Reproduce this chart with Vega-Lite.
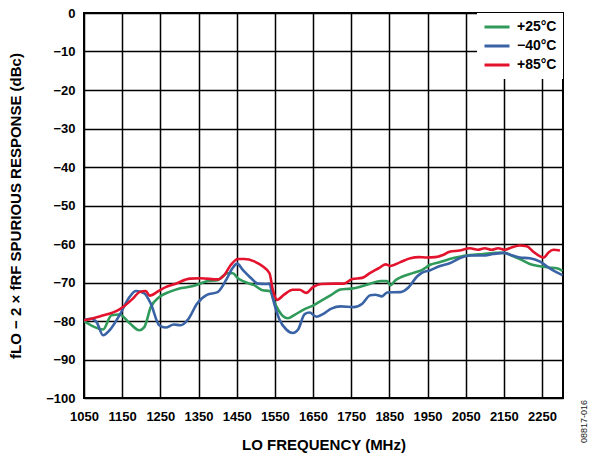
{
  "$schema": "https://vega.github.io/schema/vega-lite/v6.json",
  "width": 479,
  "height": 385,
  "autosize": {"type": "none"},
  "padding": {"left": 84, "top": 13, "right": 32, "bottom": 58},
  "background": "white",
  "title": {"text": "08817-016", "orient": "right", "anchor": "end", "angle": 270, "align": "left", "baseline": "middle", "fontSize": 9, "fontWeight": "normal", "font": "Liberation Sans", "color": "#222", "offset": 12, "dx": 9},
  "config": {
    "view": {"stroke": "black", "strokeWidth": 2},
    "axis": {
      "labelFont": "Liberation Sans", "labelFontWeight": "bold", "labelFontSize": 13, "labelColor": "black",
      "titleFont": "Liberation Sans", "titleFontWeight": "bold", "titleFontSize": 15, "titleColor": "black",
      "grid": true, "gridColor": "black", "gridWidth": 1.5, "gridOpacity": 1,
      "ticks": false, "domain": false, "labelOverlap": false, "labelBound": false, "labelFlush": false
    },
    "legend": {
      "labelFont": "Liberation Sans", "labelFontWeight": "bold", "labelFontSize": 14, "labelColor": "black"
    }
  },
  "data": {"values": [
    {"f":1050,"v":-80,"t":"+25°C"},{"f":1074,"v":-81.4,"t":"+25°C"},{"f":1100,"v":-82.2,"t":"+25°C"},{"f":1122,"v":-78.5,"t":"+25°C"},{"f":1143,"v":-78.3,"t":"+25°C"},{"f":1169,"v":-80.5,"t":"+25°C"},{"f":1195,"v":-82.4,"t":"+25°C"},{"f":1208,"v":-81.6,"t":"+25°C"},{"f":1225,"v":-76.4,"t":"+25°C"},{"f":1247,"v":-73.8,"t":"+25°C"},{"f":1272,"v":-72.5,"t":"+25°C"},{"f":1298,"v":-71.6,"t":"+25°C"},{"f":1333,"v":-71,"t":"+25°C"},{"f":1372,"v":-69.7,"t":"+25°C"},{"f":1400,"v":-69.4,"t":"+25°C"},{"f":1426,"v":-67.6,"t":"+25°C"},{"f":1440,"v":-67.6,"t":"+25°C"},{"f":1453,"v":-68.9,"t":"+25°C"},{"f":1470,"v":-69.8,"t":"+25°C"},{"f":1496,"v":-70.7,"t":"+25°C"},{"f":1518,"v":-72,"t":"+25°C"},{"f":1536,"v":-72.2,"t":"+25°C"},{"f":1553,"v":-76,"t":"+25°C"},{"f":1571,"v":-78.7,"t":"+25°C"},{"f":1584,"v":-79.3,"t":"+25°C"},{"f":1602,"v":-78.4,"t":"+25°C"},{"f":1628,"v":-76.9,"t":"+25°C"},{"f":1650,"v":-76,"t":"+25°C"},{"f":1672,"v":-74.7,"t":"+25°C"},{"f":1698,"v":-73.2,"t":"+25°C"},{"f":1722,"v":-71.8,"t":"+25°C"},{"f":1750,"v":-71.6,"t":"+25°C"},{"f":1774,"v":-71.1,"t":"+25°C"},{"f":1800,"v":-70.3,"t":"+25°C"},{"f":1827,"v":-69.6,"t":"+25°C"},{"f":1844,"v":-69.6,"t":"+25°C"},{"f":1853,"v":-70.7,"t":"+25°C"},{"f":1866,"v":-69.4,"t":"+25°C"},{"f":1883,"v":-68.5,"t":"+25°C"},{"f":1913,"v":-67.5,"t":"+25°C"},{"f":1935,"v":-66.8,"t":"+25°C"},{"f":1957,"v":-65.4,"t":"+25°C"},{"f":1983,"v":-64.7,"t":"+25°C"},{"f":2008,"v":-63.9,"t":"+25°C"},{"f":2034,"v":-63.3,"t":"+25°C"},{"f":2061,"v":-62.9,"t":"+25°C"},{"f":2096,"v":-62.6,"t":"+25°C"},{"f":2131,"v":-62.3,"t":"+25°C"},{"f":2153,"v":-62.3,"t":"+25°C"},{"f":2170,"v":-63,"t":"+25°C"},{"f":2192,"v":-63.9,"t":"+25°C"},{"f":2218,"v":-65.2,"t":"+25°C"},{"f":2245,"v":-65.8,"t":"+25°C"},{"f":2267,"v":-66.1,"t":"+25°C"},{"f":2289,"v":-66.3,"t":"+25°C"},{"f":2304,"v":-67,"t":"+25°C"},

    {"f":1050,"v":-79.8,"t":"−40°C"},{"f":1070,"v":-79.4,"t":"−40°C"},{"f":1083,"v":-80.3,"t":"−40°C"},{"f":1100,"v":-83.7,"t":"−40°C"},{"f":1117,"v":-82.4,"t":"−40°C"},{"f":1143,"v":-78.5,"t":"−40°C"},{"f":1169,"v":-73.8,"t":"−40°C"},{"f":1186,"v":-72.2,"t":"−40°C"},{"f":1208,"v":-72.8,"t":"−40°C"},{"f":1225,"v":-75.5,"t":"−40°C"},{"f":1247,"v":-81.1,"t":"−40°C"},{"f":1264,"v":-81.7,"t":"−40°C"},{"f":1285,"v":-80.9,"t":"−40°C"},{"f":1303,"v":-81.1,"t":"−40°C"},{"f":1324,"v":-79.4,"t":"−40°C"},{"f":1346,"v":-75.5,"t":"−40°C"},{"f":1372,"v":-73.2,"t":"−40°C"},{"f":1400,"v":-72.5,"t":"−40°C"},{"f":1422,"v":-69.4,"t":"−40°C"},{"f":1439,"v":-66.3,"t":"−40°C"},{"f":1451,"v":-65.1,"t":"−40°C"},{"f":1466,"v":-66.7,"t":"−40°C"},{"f":1488,"v":-68.9,"t":"−40°C"},{"f":1505,"v":-70.3,"t":"−40°C"},{"f":1527,"v":-70.4,"t":"−40°C"},{"f":1536,"v":-70.3,"t":"−40°C"},{"f":1545,"v":-74.2,"t":"−40°C"},{"f":1562,"v":-79.6,"t":"−40°C"},{"f":1580,"v":-82.2,"t":"−40°C"},{"f":1597,"v":-83.1,"t":"−40°C"},{"f":1611,"v":-82.2,"t":"−40°C"},{"f":1628,"v":-78.2,"t":"−40°C"},{"f":1641,"v":-77.8,"t":"−40°C"},{"f":1659,"v":-78.9,"t":"−40°C"},{"f":1676,"v":-78.2,"t":"−40°C"},{"f":1698,"v":-76.8,"t":"−40°C"},{"f":1722,"v":-76.2,"t":"−40°C"},{"f":1757,"v":-76.4,"t":"−40°C"},{"f":1779,"v":-75.5,"t":"−40°C"},{"f":1800,"v":-73.3,"t":"−40°C"},{"f":1813,"v":-73.2,"t":"−40°C"},{"f":1831,"v":-73.6,"t":"−40°C"},{"f":1844,"v":-72.6,"t":"−40°C"},{"f":1879,"v":-72.5,"t":"−40°C"},{"f":1900,"v":-71.3,"t":"−40°C"},{"f":1922,"v":-68.5,"t":"−40°C"},{"f":1935,"v":-67.5,"t":"−40°C"},{"f":1957,"v":-66.8,"t":"−40°C"},{"f":1983,"v":-65.7,"t":"−40°C"},{"f":2008,"v":-65,"t":"−40°C"},{"f":2034,"v":-63.7,"t":"−40°C"},{"f":2061,"v":-63,"t":"−40°C"},{"f":2096,"v":-63,"t":"−40°C"},{"f":2122,"v":-62.6,"t":"−40°C"},{"f":2148,"v":-62.3,"t":"−40°C"},{"f":2170,"v":-62.9,"t":"−40°C"},{"f":2192,"v":-63.5,"t":"−40°C"},{"f":2218,"v":-63.7,"t":"−40°C"},{"f":2245,"v":-64.6,"t":"−40°C"},{"f":2267,"v":-66.1,"t":"−40°C"},{"f":2285,"v":-67.2,"t":"−40°C"},{"f":2304,"v":-68.1,"t":"−40°C"},

    {"f":1050,"v":-79.8,"t":"+85°C"},{"f":1091,"v":-78.8,"t":"+85°C"},{"f":1143,"v":-77,"t":"+85°C"},{"f":1178,"v":-74.2,"t":"+85°C"},{"f":1195,"v":-72.5,"t":"+85°C"},{"f":1212,"v":-72.2,"t":"+85°C"},{"f":1222,"v":-73.4,"t":"+85°C"},{"f":1247,"v":-72.1,"t":"+85°C"},{"f":1264,"v":-71.2,"t":"+85°C"},{"f":1290,"v":-70.3,"t":"+85°C"},{"f":1328,"v":-69,"t":"+85°C"},{"f":1356,"v":-68.9,"t":"+85°C"},{"f":1400,"v":-69.2,"t":"+85°C"},{"f":1418,"v":-68,"t":"+85°C"},{"f":1435,"v":-65.4,"t":"+85°C"},{"f":1453,"v":-63.9,"t":"+85°C"},{"f":1470,"v":-63.9,"t":"+85°C"},{"f":1496,"v":-64.5,"t":"+85°C"},{"f":1518,"v":-65.8,"t":"+85°C"},{"f":1536,"v":-67.6,"t":"+85°C"},{"f":1545,"v":-72,"t":"+85°C"},{"f":1556,"v":-74.5,"t":"+85°C"},{"f":1575,"v":-73.1,"t":"+85°C"},{"f":1597,"v":-71.9,"t":"+85°C"},{"f":1615,"v":-71.9,"t":"+85°C"},{"f":1632,"v":-72.7,"t":"+85°C"},{"f":1650,"v":-71.2,"t":"+85°C"},{"f":1672,"v":-70.4,"t":"+85°C"},{"f":1705,"v":-70.3,"t":"+85°C"},{"f":1731,"v":-70.3,"t":"+85°C"},{"f":1753,"v":-69.1,"t":"+85°C"},{"f":1779,"v":-68.8,"t":"+85°C"},{"f":1800,"v":-67.5,"t":"+85°C"},{"f":1822,"v":-66.3,"t":"+85°C"},{"f":1840,"v":-65.3,"t":"+85°C"},{"f":1853,"v":-65.7,"t":"+85°C"},{"f":1879,"v":-64.7,"t":"+85°C"},{"f":1905,"v":-63.7,"t":"+85°C"},{"f":1927,"v":-63.4,"t":"+85°C"},{"f":1948,"v":-63.5,"t":"+85°C"},{"f":1970,"v":-63.4,"t":"+85°C"},{"f":1992,"v":-62.8,"t":"+85°C"},{"f":2008,"v":-62,"t":"+85°C"},{"f":2034,"v":-61.7,"t":"+85°C"},{"f":2061,"v":-61.1,"t":"+85°C"},{"f":2082,"v":-61.5,"t":"+85°C"},{"f":2100,"v":-61.1,"t":"+85°C"},{"f":2118,"v":-61.5,"t":"+85°C"},{"f":2135,"v":-61.1,"t":"+85°C"},{"f":2153,"v":-61.5,"t":"+85°C"},{"f":2170,"v":-60.9,"t":"+85°C"},{"f":2192,"v":-60.4,"t":"+85°C"},{"f":2210,"v":-60.6,"t":"+85°C"},{"f":2227,"v":-62,"t":"+85°C"},{"f":2245,"v":-63.2,"t":"+85°C"},{"f":2255,"v":-63.5,"t":"+85°C"},{"f":2267,"v":-62.2,"t":"+85°C"},{"f":2280,"v":-61.5,"t":"+85°C"},{"f":2297,"v":-61.7,"t":"+85°C"}
  ]},
  "mark": {"type": "line", "strokeWidth": 2.6, "interpolate": "monotone", "clip": true},
  "encoding": {
    "x": {"field": "f", "type": "quantitative",
      "scale": {"domain": [1050, 2305], "nice": false, "zero": false},
      "axis": {"values": [1050,1150,1250,1350,1450,1550,1650,1750,1850,1950,2050,2150,2250], "title": "LO FREQUENCY (MHz)", "labelPadding": 12, "titlePadding": 14, "format": "d"}},
    "y": {"field": "v", "type": "quantitative",
      "scale": {"domain": [-100, 0], "nice": false},
      "axis": {"values": [-100,-90,-80,-70,-60,-50,-40,-30,-20,-10,0], "title": "fLO − 2 × fRF SPURIOUS RESPONSE (dBc)", "labelPadding": 9, "titlePadding": 22}},
    "color": {"field": "t", "type": "nominal",
      "scale": {"domain": ["+25°C", "−40°C", "+85°C"], "range": ["#2f9a5a", "#3a63a6", "#e3132d"]},
      "legend": {"title": null, "orient": "top-right", "offset": 0, "fillColor": "white", "strokeColor": null, "padding": 6, "symbolType": "stroke", "symbolSize": 625, "symbolStrokeWidth": 3, "clipHeight": 16, "rowPadding": 3, "labelOffset": 6}},
    "order": {"field": "f", "type": "quantitative"}
  }
}
